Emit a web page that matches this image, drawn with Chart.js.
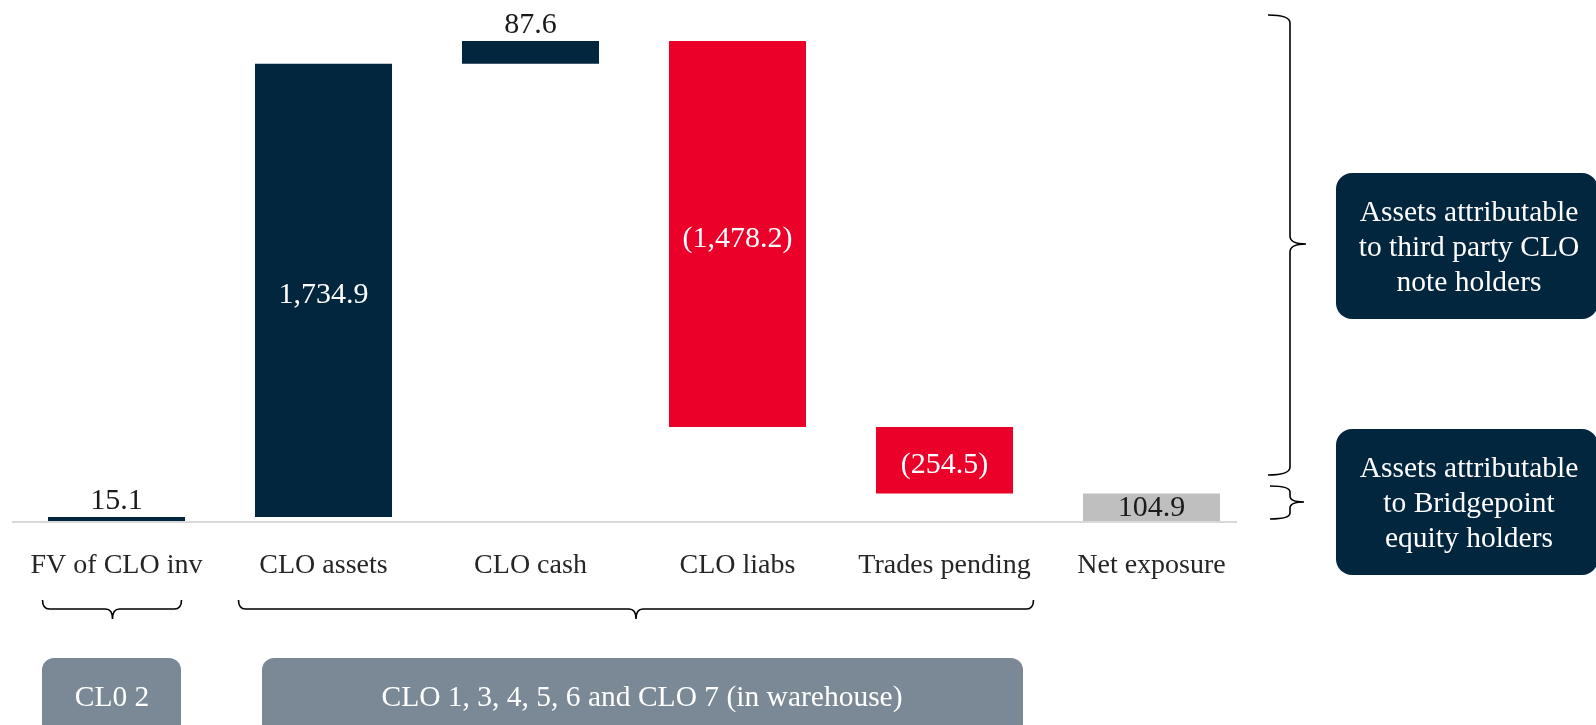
<!DOCTYPE html>
<html>
<head>
<meta charset="utf-8">
<script src="https://cdn.jsdelivr.net/npm/chart.js@4.4.1/dist/chart.umd.min.js"></script>
<style>
  html, body { margin: 0; padding: 0; background: #fff; }
  #wrap { width: 1596px; height: 725px; }
</style>
</head>
<body>
<div id="wrap"><canvas id="cvs" width="1596" height="725"></canvas></div>
<script>
// waterfall data (EUR m)
const categories  = ['FV of CLO inv', 'CLO assets', 'CLO cash', 'CLO liabs', 'Trades pending', 'Net exposure'];
const changes     = [15.1, 1734.9, 87.6, -1478.2, -254.5, 104.9];
const isTotal     = [false, false, false, false, false, true];
const valueLabels = ['15.1', '1,734.9', '87.6', '(1,478.2)', '(254.5)', '104.9'];
const groupLabels = ['CL0 2', 'CLO 1, 3, 4, 5, 6 and CLO 7 (in warehouse)'];
const calloutTop  = ['Assets attributable', 'to third party CLO', 'note holders'];
const calloutLow  = ['Assets attributable', 'to Bridgepoint', 'equity holders'];

const NAVY = '#03263f', RED = '#ea0029', GREY = '#bfbfbf', SLATE = '#7a8995';
const FONT = '"Liberation Serif", "DejaVu Serif", serif';

// floating bars built from the running total
let run = 0;
const bars = changes.map((v, i) => {
    if (isTotal[i]) return [0, v];
    const b = [run, run + v];
    run += v;
    return b;
});
const colors = changes.map((v, i) => isTotal[i] ? GREY : (v < 0 ? RED : NAVY));

function braceV(ctx, xL, xM, xT, y1, y2, ym, r) {
    ctx.beginPath();
    ctx.moveTo(xL, y1);
    ctx.quadraticCurveTo(xM, y1, xM, y1 + r);
    ctx.lineTo(xM, ym - r);
    ctx.quadraticCurveTo(xM, ym, xT, ym);
    ctx.moveTo(xT, ym);
    ctx.quadraticCurveTo(xM, ym, xM, ym + r);
    ctx.lineTo(xM, y2 - r);
    ctx.quadraticCurveTo(xM, y2, xL, y2);
    ctx.stroke();
}
function braceH(ctx, x1, x2, xm, yT, yH, yB, r) {
    ctx.beginPath();
    ctx.moveTo(x1, yT);
    ctx.quadraticCurveTo(x1, yH, x1 + r, yH);
    ctx.lineTo(xm - r, yH);
    ctx.quadraticCurveTo(xm, yH, xm, yB);
    ctx.moveTo(xm, yB);
    ctx.quadraticCurveTo(xm, yH, xm + r, yH);
    ctx.lineTo(x2 - r, yH);
    ctx.quadraticCurveTo(x2, yH, x2, yT);
    ctx.stroke();
}
function roundBox(ctx, x, y, w, h, r, fill) {
    ctx.beginPath();
    ctx.roundRect(x, y, w, h, r);
    ctx.fillStyle = fill;
    ctx.fill();
}

const extras = {
    id: 'extras',
    beforeDatasetsDraw(chart) {
        const ctx = chart.ctx, y0 = chart.scales.y.getPixelForValue(0);
        ctx.save();
        ctx.strokeStyle = '#d9d9d9';
        ctx.lineWidth = 2;
        ctx.beginPath();
        ctx.moveTo(chart.chartArea.left - 1, y0 + 1);
        ctx.lineTo(chart.chartArea.right - 18, y0 + 1);
        ctx.stroke();
        ctx.restore();
    },
    afterDraw(chart) {
        const ctx = chart.ctx, meta = chart.getDatasetMeta(0), xs = chart.scales.x;
        ctx.save();
        ctx.font = '30px ' + FONT;
        ctx.textAlign = 'center';
        ctx.textBaseline = 'middle';
        meta.data.forEach((bar, i) => {
            const top = Math.min(bar.y, bar.base), bot = Math.max(bar.y, bar.base);
            if (!isTotal[i] && bot - top < 30) {
                ctx.fillStyle = '#1a1a1a';
                ctx.fillText(valueLabels[i], bar.x, top - 16);
            } else if (isTotal[i]) {
                ctx.fillStyle = '#1a1a1a';
                ctx.fillText(valueLabels[i], bar.x, (top + bot) / 2 + 1);
            } else {
                ctx.fillStyle = '#ffffff';
                ctx.fillText(valueLabels[i], bar.x, (top + bot) / 2 + 5);
            }
        });

        // right hand braces and callouts
        ctx.strokeStyle = '#000';
        ctx.lineWidth = 1.6;
        braceV(ctx, 1268, 1290, 1306, 15, 475, 244, 8);
        braceV(ctx, 1270, 1290, 1304, 486, 519, 502, 6);

        roundBox(ctx, 1336, 173, 262, 146, 16, NAVY);
        roundBox(ctx, 1336, 429, 262, 146, 16, NAVY);
        ctx.fillStyle = '#fff';
        ctx.font = '29.5px ' + FONT;
        calloutTop.forEach((t, k) => ctx.fillText(t, 1469, 213 + k * 35));
        calloutLow.forEach((t, k) => ctx.fillText(t, 1469, 469 + k * 35));

        // bottom braces and group boxes
        const c0 = xs.getPixelForValue(0), c1 = xs.getPixelForValue(1), c4 = xs.getPixelForValue(4);
        ctx.strokeStyle = '#000';
        braceH(ctx, c0 - 74, c0 + 65, c0 - 4, 600, 609, 619, 7);
        braceH(ctx, c1 - 85, c4 + 89, (c1 - 85 + c4 + 89) / 2, 600, 609, 619, 7);

        roundBox(ctx, 42, 658, 139, 90, 12, SLATE);
        roundBox(ctx, 262, 658, 761, 90, 12, SLATE);
        ctx.fillStyle = '#fff';
        ctx.font = '29.5px ' + FONT;
        ctx.fillText(groupLabels[0], 112, 698);
        ctx.fillText(groupLabels[1], 642, 698);
        ctx.restore();
    }
};

new Chart(document.getElementById('cvs'), {
    type: 'bar',
    data: {
        labels: categories,
        datasets: [{
            data: bars,
            backgroundColor: colors,
            borderWidth: 0,
            barPercentage: 0.662,
            categoryPercentage: 1
        }]
    },
    options: {
        responsive: false,
        animation: false,
        devicePixelRatio: 1,
        layout: { padding: { left: 13, right: 341, top: 9, bottom: 0 } },
        plugins: { legend: { display: false }, tooltip: { enabled: false } },
        scales: {
            x: {
                grid: { display: false, drawTicks: false },
                border: { display: false },
                ticks: { font: { family: FONT, size: 28 }, color: '#262626', padding: 28, maxRotation: 0, autoSkip: false },
                afterFit: s => { s.height = 204; }
            },
            y: { display: false, min: 0, max: 1960 }
        }
    },
    plugins: [extras]
});
</script>
</body>
</html>
